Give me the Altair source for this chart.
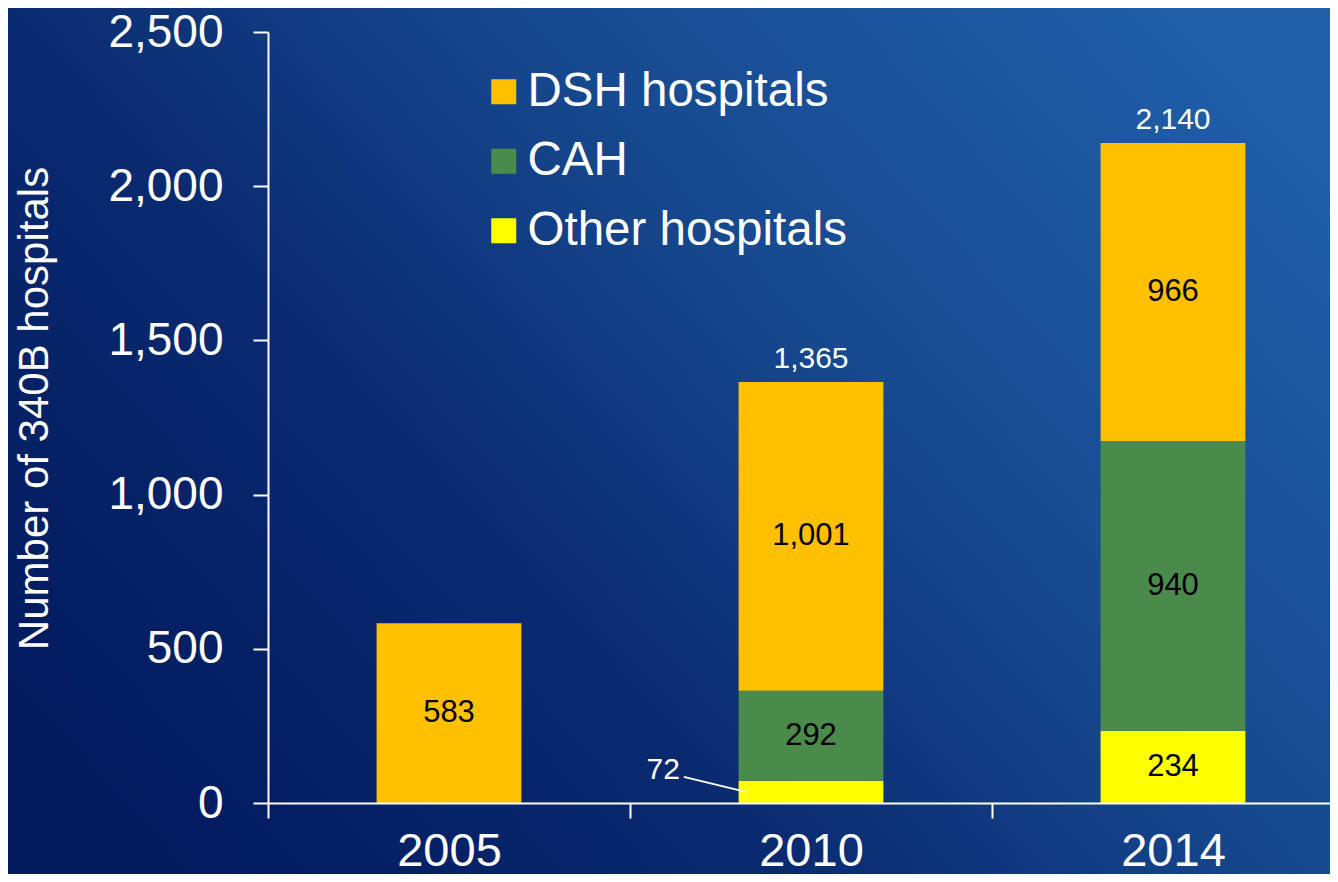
import altair as alt
import pandas as pd

# ---- data ----
years = ["2005", "2010", "2014"]
series_names = ["DSH hospitals", "CAH", "Other hospitals"]
dsh = [583, 1001, 966]
cah = [0, 292, 940]
other = [0, 72, 234]
series_colors = ["#FFC000", "#4A8B4C", "#FFFF00"]
y_ticks = [0, 500, 1000, 1500, 2000, 2500]

# ---- layout constants ----
W = 1062
H = 771
BAND = 362
PAD = {"left": 260, "top": 24, "right": 0, "bottom": 71}
FONT = "Liberation Sans"

rows = []
stack_parts = [("Other hospitals", other), ("CAH", cah), ("DSH hospitals", dsh)]
for i, yr in enumerate(years):
    for order, (name, vals) in enumerate(stack_parts):
        rows.append({"year": yr, "idx": i, "series": name, "order": order, "value": vals[i]})
df = pd.DataFrame(rows)

totals_df = pd.DataFrame({
    "year": years,
    "idx": list(range(len(years))),
    "total": [d + c + o for d, c, o in zip(dsh, cah, other)],
    "stacked": [(c + o) > 0 for c, o in zip(cah, other)],
})

label_expr = "[" + ",".join("'%s'" % y for y in years) + "][datum.value]"

xscale = alt.Scale(domain=[0, W / BAND], nice=False, zero=False)
yscale = alt.Scale(domain=[0, 2500], nice=False)

xaxis = alt.Axis(
    values=list(range(len(years))), labelExpr=label_expr, labelOffset=BAND / 2,
    labelFlush=False, labelOverlap=False, title=None, grid=False,
    domainColor="white", domainWidth=2, tickColor="white", tickWidth=2, tickSize=15,
    labelColor="white", labelFontSize=47, labelFont=FONT, labelBaseline="alphabetic",
    labelPadding=47, zindex=1,
)
yaxis = alt.Axis(
    values=y_ticks, format=",.0f", title="Number of 340B hospitals", grid=False,
    domainColor="white", domainWidth=2, tickColor="white", tickWidth=2, tickSize=15,
    labelColor="white", labelFontSize=46, labelFont=FONT, labelPadding=30,
    titleColor="white", titleFontSize=42, titleFont=FONT, titleFontWeight="normal",
    titleX=-221, titleY=376, titleAngle=270, titleBaseline="alphabetic", titleAlign="center",
    zindex=1,
)

gradient = {
    "gradient": "linear",
    "x1": 0, "y1": 0.8, "x2": 1, "y2": 0.2,
    "stops": [
        {"offset": 0, "color": "#021a5e"},
        {"offset": 0.35, "color": "#0a2a70"},
        {"offset": 0.65, "color": "#174a90"},
        {"offset": 1, "color": "#1f5ea8"},
    ],
}

bg = alt.Chart(pd.DataFrame({"k": [0]})).mark_rect(fill=gradient).encode(
    x=alt.value(-PAD["left"]), x2=alt.value(W + PAD["right"]),
    y=alt.value(-PAD["top"]), y2=alt.value(H + PAD["bottom"]),
)

base = alt.Chart(df).transform_stack(
    stack="value", as_=["y0", "y1"], groupby=["year"],
    sort=[alt.SortField("order", order="ascending")],
).transform_calculate(
    mid="(datum.y0 + datum.y1) / 2",
    bx0="datum.idx + 0.3",
    bx1="datum.idx + 0.7",
    xc="datum.idx + 0.5",
    lx="datum.idx + 0.32",
)

bars = base.transform_filter("datum.value > 0").mark_bar().encode(
    x=alt.X("bx0:Q", scale=xscale, axis=xaxis),
    x2="bx1:Q",
    y=alt.Y("y0:Q", scale=yscale, axis=yaxis),
    y2="y1:Q",
    color=alt.Color(
        "series:N",
        scale=alt.Scale(domain=series_names, range=series_colors),
        legend=alt.Legend(
            orient="none", legendX=212, legendY=36, title=None,
            labelColor="white", labelFontSize=47.5, labelFont=FONT, labelLimit=800,
            symbolType="square", symbolSize=625, symbolStrokeWidth=0,
            rowPadding=20.5, labelOffset=0, padding=0,
        ),
    ),
)

inside = base.transform_filter("datum.value >= 100").mark_text(
    color="black", fontSize=31, font=FONT, baseline="middle", align="center"
).encode(
    x=alt.X("xc:Q", scale=xscale), y=alt.Y("mid:Q", scale=yscale),
    text=alt.Text("value:Q", format=","),
)

callout_line = base.transform_filter("datum.value > 0 && datum.value < 100").mark_rule(
    color="white", strokeWidth=2, x2Offset=-62, y2Offset=-15
).encode(
    x=alt.X("lx:Q", scale=xscale), x2="lx:Q",
    y=alt.Y("mid:Q", scale=yscale), y2="mid:Q",
)

callout_text = base.transform_filter("datum.value > 0 && datum.value < 100").mark_text(
    color="white", fontSize=30, font=FONT, baseline="middle", align="right", dx=-66, dy=-22
).encode(
    x=alt.X("lx:Q", scale=xscale), y=alt.Y("mid:Q", scale=yscale),
    text=alt.Text("value:Q", format=","),
)

totals = alt.Chart(totals_df).transform_filter("datum.stacked").transform_calculate(
    xc="datum.idx + 0.5"
).mark_text(
    color="white", fontSize=30, font=FONT, baseline="alphabetic", align="center", dy=-14
).encode(
    x=alt.X("xc:Q", scale=xscale), y=alt.Y("total:Q", scale=yscale),
    text=alt.Text("total:Q", format=","),
)

chart = alt.layer(bg, bars, inside, callout_line, callout_text, totals).properties(
    width=W, height=H,
    autosize=alt.AutoSizeParams(type="none"),
    padding=PAD,
    background="#0a2a70",
).configure_view(strokeWidth=0).configure(font=FONT)

chart.save("out.html", embed_options={"renderer": "svg", "actions": False})
